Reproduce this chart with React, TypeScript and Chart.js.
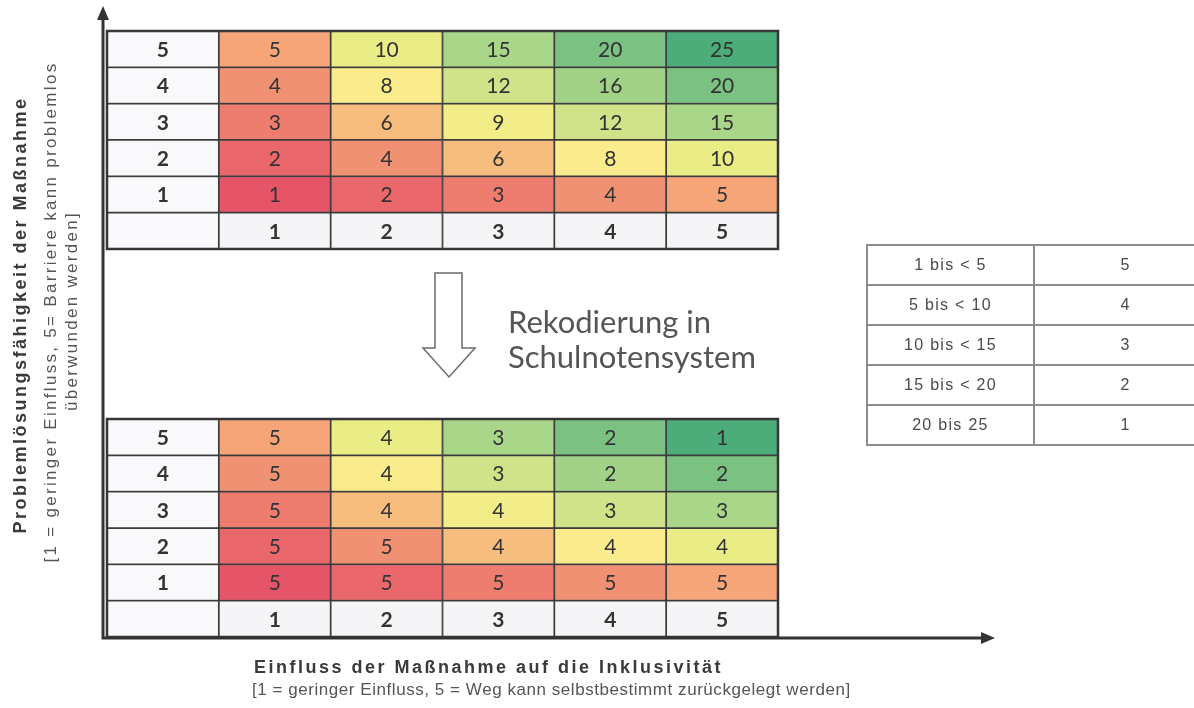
import React, { useEffect, useRef } from "react";
import { Chart, registerables } from "chart.js";

Chart.register(...registerables);

// ---------- data ----------
const colLabels = ["1", "2", "3", "4", "5"];
const rowLabels = ["5", "4", "3", "2", "1"];
const scoreMatrix = [
  [5, 10, 15, 20, 25],
  [4, 8, 12, 16, 20],
  [3, 6, 9, 12, 15],
  [2, 4, 6, 8, 10],
  [1, 2, 3, 4, 5],
];
const gradeMatrix = [
  [5, 4, 3, 2, 1],
  [5, 4, 3, 2, 2],
  [5, 4, 4, 3, 3],
  [5, 5, 4, 4, 4],
  [5, 5, 5, 5, 5],
];
const rangeLabels = ["1 bis < 5", "5 bis < 10", "10 bis < 15", "15 bis < 20", "20 bis 25"];
const rangeGrades = ["5", "4", "3", "2", "1"];

// ---------- style ----------
const colorStops: [number, number[]][] = [
  [1, [230, 84, 104]],
  [5, [245, 165, 120]],
  [8, [250, 236, 140]],
  [10, [234, 236, 134]],
  [15, [170, 214, 138]],
  [25, [76, 172, 122]],
];
function scoreColor(v: number) {
  for (let i = 0; i < colorStops.length - 1; i++) {
    const [a, ca] = colorStops[i];
    const [b, cb] = colorStops[i + 1];
    if (v >= a && v <= b) {
      const t = (v - a) / (b - a);
      const c = ca.map((k, j) => Math.round(k + (cb[j] - k) * t));
      return `rgb(${c[0]},${c[1]},${c[2]})`;
    }
  }
  return "#fff";
}
const LABEL_BG = "#f9f9fb";
const LABEL_BG2 = "#f5f5f7";
const Y_MAX = 16.68;
const TOP_BASE = 10.68;
const BOTTOM_BASE = 0;

function buildDataset(values: number[][], base: number) {
  const data: any[] = [];
  const bg: string[] = [];
  const text: string[] = [];
  const bold: boolean[] = [];
  rowLabels.forEach((lab, r) => {
    const y0 = base + (rowLabels.length - r);
    data.push({ x: 0.5, y: [y0, y0 + 1] });
    bg.push(LABEL_BG);
    text.push(lab);
    bold.push(true);
    values[r].forEach((v, c) => {
      data.push({ x: c + 1.5, y: [y0, y0 + 1] });
      bg.push(scoreColor(scoreMatrix[r][c]));
      text.push(String(v));
      bold.push(false);
    });
  });
  data.push({ x: 0.5, y: [base, base + 1] });
  bg.push(LABEL_BG);
  text.push("");
  bold.push(false);
  colLabels.forEach((lab, c) => {
    data.push({ x: c + 1.5, y: [base, base + 1] });
    bg.push(LABEL_BG2);
    text.push(lab);
    bold.push(true);
  });
  return {
    type: "bar",
    data,
    backgroundColor: bg,
    borderColor: "#3c3c3c",
    borderWidth: 1.2,
    borderSkipped: false,
    grouped: false,
    barPercentage: 1,
    categoryPercentage: 1,
    cellText: text,
    cellBold: bold,
    frameBase: base,
  };
}

const cellPlugin = {
  id: "cellText",
  afterDatasetsDraw(chart: any) {
    const ctx = chart.ctx;
    const xs = chart.scales.x;
    const ys = chart.scales.y;
    chart.data.datasets.forEach((ds: any, i: number) => {
      const meta = chart.getDatasetMeta(i);
      meta.data.forEach((el: any, j: number) => {
        const { x, y, base } = el.getProps(["x", "y", "base"], true);
        ctx.save();
        ctx.font = `${ds.cellBold[j] ? "bold " : ""}21px Lato`;
        ctx.fillStyle = "#333";
        ctx.textAlign = "center";
        ctx.textBaseline = "middle";
        ctx.fillText(ds.cellText[j], x, (y + base) / 2 + 1);
        ctx.restore();
      });
      const x0 = xs.getPixelForValue(0);
      const x1 = xs.getPixelForValue(6);
      const y0 = ys.getPixelForValue(ds.frameBase + 6);
      const y1 = ys.getPixelForValue(ds.frameBase);
      ctx.save();
      ctx.strokeStyle = "#363636";
      ctx.lineWidth = 2.5;
      ctx.strokeRect(x0, y0, x1 - x0, y1 - y0);
      ctx.restore();
    });
  },
};

const axisPlugin = {
  id: "axisArrows",
  afterDraw(chart: any) {
    const ctx = chart.ctx;
    const { left, bottom } = chart.chartArea;
    const ax = left - 4;
    const ay = bottom + 1;
    ctx.save();
    ctx.strokeStyle = "#333";
    ctx.fillStyle = "#333";
    ctx.lineWidth = 3;
    ctx.beginPath();
    ctx.moveTo(ax, ay + 1.5);
    ctx.lineTo(ax, 18);
    ctx.moveTo(ax - 1.5, ay);
    ctx.lineTo(982, ay);
    ctx.stroke();
    ctx.beginPath();
    ctx.moveTo(ax, 6);
    ctx.lineTo(ax - 6, 20);
    ctx.lineTo(ax + 6, 20);
    ctx.closePath();
    ctx.fill();
    ctx.beginPath();
    ctx.moveTo(995, ay);
    ctx.lineTo(981, ay - 6);
    ctx.lineTo(981, ay + 6);
    ctx.closePath();
    ctx.fill();
    ctx.restore();
  },
};

function vText(cx: number, cy: number, w: number, extra: any): any {
  return {
    position: "absolute",
    left: cx - w / 2,
    top: cy - 12,
    width: w,
    height: 24,
    lineHeight: "24px",
    textAlign: "center",
    transform: "rotate(-90deg)",
    whiteSpace: "nowrap",
    fontFamily: "'Liberation Sans', Arial, sans-serif",
    ...extra,
  };
}

export default function App() {
  const ref = useRef<HTMLCanvasElement | null>(null);
  useEffect(() => {
    document.body.style.margin = "0";
    document.body.style.background = "#fff";
    const chart = new Chart(ref.current as HTMLCanvasElement, {
      type: "bar",
      data: {
        datasets: [buildDataset(scoreMatrix, TOP_BASE), buildDataset(gradeMatrix, BOTTOM_BASE)] as any,
      },
      options: {
        animation: false,
        responsive: false,
        layout: { padding: { left: 107, right: 416, top: 31, bottom: 71 } },
        scales: {
          x: { type: "linear", min: 0, max: 6, display: false, offset: false, ticks: { stepSize: 1 } },
          y: { type: "linear", min: 0, max: Y_MAX, display: false, ticks: { stepSize: 1 } },
        },
        plugins: { legend: { display: false }, tooltip: { enabled: false } },
      } as any,
      plugins: [cellPlugin, axisPlugin],
    });
    return () => chart.destroy();
  }, []);

  const tdBase: any = {
    border: "2px solid #8c8c8c",
    height: 38,
    padding: 0,
    textAlign: "center",
    fontFamily: "'Liberation Sans', Arial, sans-serif",
    fontSize: 16,
    letterSpacing: "1.3px",
    color: "#4a4a4a",
  };

  return (
    <div style={{ position: "relative", width: 1194, height: 708, overflow: "hidden", background: "#fff" }}>
      <canvas ref={ref} width={1194} height={708} style={{ position: "absolute", left: 0, top: 0 }} />
      <div style={vText(20, 315, 600, { fontWeight: "bold", fontSize: 18, letterSpacing: "2.5px", color: "#3a3a3a" })}>
        Problemlösungsfähigkeit der Maßnahme
      </div>
      <div style={vText(51, 312, 600, { fontSize: 17, letterSpacing: "2.3px", color: "#555" })}>
        [1 = geringer Einfluss, 5= Barriere kann problemlos
      </div>
      <div style={vText(72, 311, 400, { fontSize: 17, letterSpacing: "2.3px", color: "#555" })}>
        überwunden werden]
      </div>
      <div
        style={{
          position: "absolute",
          left: 254,
          top: 655,
          whiteSpace: "nowrap",
          fontFamily: "'Liberation Sans', Arial, sans-serif",
          fontWeight: "bold",
          fontSize: 18,
          letterSpacing: "2.5px",
          color: "#3a3a3a",
          lineHeight: "24px",
        }}
      >
        Einfluss der Maßnahme auf die Inklusivität
      </div>
      <div
        style={{
          position: "absolute",
          left: 252,
          top: 678,
          whiteSpace: "nowrap",
          fontFamily: "'Liberation Sans', Arial, sans-serif",
          fontSize: 17,
          letterSpacing: "0.55px",
          color: "#555",
          lineHeight: "24px",
        }}
      >
        [1 = geringer Einfluss, 5 = Weg kann selbstbestimmt zurückgelegt werden]
      </div>
      <svg width={80} height={120} style={{ position: "absolute", left: 410, top: 262 }}>
        <polygon
          points="25,11 52,11 52,86 65,86 39,115 13,86 25,86"
          fill="#fff"
          stroke="#6a6a6a"
          strokeWidth={1.5}
        />
      </svg>
      <div
        style={{
          position: "absolute",
          left: 508,
          top: 304,
          fontFamily: "Lato, sans-serif",
          fontSize: 31,
          lineHeight: "35px",
          color: "#555",
          whiteSpace: "nowrap",
        }}
      >
        Rekodierung in
        <br />
        Schulnotensystem
      </div>
      <table
        style={{
          position: "absolute",
          left: 866,
          top: 244,
          borderCollapse: "collapse",
          width: 350,
          tableLayout: "fixed",
        }}
      >
        <colgroup>
          <col style={{ width: 167 }} />
          <col style={{ width: 183 }} />
        </colgroup>
        <tbody>
          {rangeLabels.map((r, i) => (
            <tr key={r}>
              <td style={tdBase}>{r}</td>
              <td style={tdBase}>{rangeGrades[i]}</td>
            </tr>
          ))}
        </tbody>
      </table>
    </div>
  );
}
